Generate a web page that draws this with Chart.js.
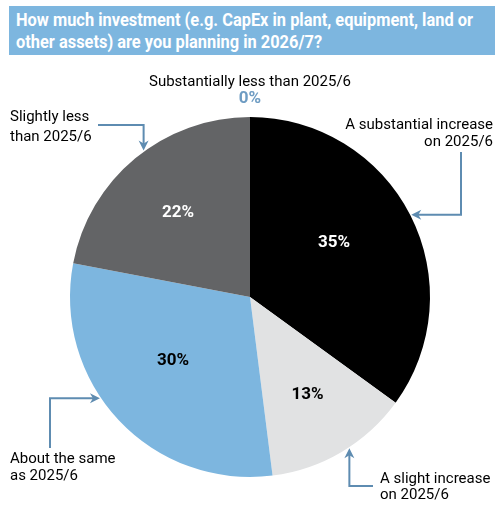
<!DOCTYPE html>
<html>
<head>
<meta charset="utf-8">
<script src="https://cdn.jsdelivr.net/npm/chart.js@4.4.1/dist/chart.umd.min.js"></script>
<style>
  html, body { margin: 0; padding: 0; background: #ffffff; }
  #wrap { position: relative; width: 501px; height: 521px; overflow: hidden; }
  #title {
    position: absolute; left: 9px; top: 6px; width: 479px; height: 46px;
    padding: 3px 0 0 7px;
    background: #7DB6DF; color: #ffffff;
    font-family: 'Roboto', sans-serif; font-weight: bold;
    font-size: 18px; line-height: 22px; white-space: nowrap;
  }
  #titleText { display: inline-block; transform-origin: 0 0; }
  canvas { position: absolute; left: 0; top: 0; }
</style>
</head>
<body>
<div id="wrap">
  <canvas id="c" width="501" height="521"></canvas>
  <div id="title"><span id="titleText">How much investment (e.g. CapEx in plant, equipment, land or<br>other assets) are you planning in 2026/7?</span></div>
</div>
<script>
// ---- data ----
const categories = [
  "A substantial increase on 2025/6",
  "A slight increase on 2025/6",
  "About the same as 2025/6",
  "Slightly less than 2025/6",
  "Substantially less than 2025/6"
];
const values = [35, 13, 30, 22, 0];
const percentLabels = ["35%", "13%", "30%", "22%", "0%"];
const calloutLines = [
  ["A substantial increase", "on 2025/6"],
  ["A slight increase", "on 2025/6"],
  ["About the same", "as 2025/6"],
  ["Slightly less", "than 2025/6"],
  ["Substantially less than 2025/6"]
];

// ---- styles ----
const sliceColors = ["#000000", "#E1E2E3", "#7DB6DF", "#636466", "#9A9A9A"];
const pctColors = ["#ffffff", "#000000", "#000000", "#ffffff", "#6E9CC3"];
const arrowColor = "#5E8CB1";
const labelFont = "15px Roboto, sans-serif";
const pctFont = "bold 17px Roboto, sans-serif";

// fit title to the reference width
(function () {
  const t = document.getElementById('titleText');
  const w = t.getBoundingClientRect().width;
  const s = 457 / w;
  t.style.transform = 'scaleX(' + s + ')';
})();

// label placement (radius fraction, angle nudge in degrees)
const pctPlacement = [
  { r: 0.556, da: -6 },
  { r: 0.628, da: 0 },
  { r: 0.556, da: 3.5 },
  { r: 0.615, da: -1 }
];

// callouts: tip angle (deg from top, clockwise), approach, elbow, label anchor
const callouts = [
  { i: 0, tipDeg: 63, approach: 'h', elbow: 461, end: 152, align: 'right', lx: 493, ly: 125, lh: 17 },
  { i: 1, tipDeg: 146.7, approach: 'v', elbow: 486, end: 373, align: 'left', lx: 380, ly: 479, lh: 16.5 },
  { i: 2, tipDeg: 236, approach: 'h', elbow: 50, end: 448, align: 'left', lx: 10, ly: 459, lh: 17 },
  { i: 3, tipDeg: 324, approach: 'v', elbow: 125, end: 98, align: 'left', lx: 10, ly: 117, lh: 20 }
];

function drawArrowHead(ctx, x, y, dx, dy) {
  const len = 10, hw = 5, notch = 3;
  const px = -dy, py = dx;
  ctx.beginPath();
  ctx.moveTo(x, y);
  ctx.lineTo(x - dx * len + px * hw, y - dy * len + py * hw);
  ctx.lineTo(x - dx * (len - notch), y - dy * (len - notch));
  ctx.lineTo(x - dx * len - px * hw, y - dy * len - py * hw);
  ctx.closePath();
  ctx.fill();
}

const annotationPlugin = {
  id: 'pieAnnotations',
  afterDatasetsDraw(chart) {
    const ctx = chart.ctx;
    const meta = chart.getDatasetMeta(0);
    const first = meta.data[0];
    const cx = first.x, cy = first.y, R = first.outerRadius;
    ctx.save();
    ctx.textAlign = 'center';
    ctx.textBaseline = 'middle';
    ctx.font = pctFont;
    meta.data.forEach((arc, i) => {
      if (values[i] <= 0) return;
      const p = pctPlacement[i];
      const a = (arc.startAngle + arc.endAngle) / 2 + p.da * Math.PI / 180;
      ctx.fillStyle = pctColors[i];
      ctx.fillText(percentLabels[i], cx + R * p.r * Math.cos(a), cy + R * p.r * Math.sin(a));
    });
    const zi = values.findIndex(v => v <= 0);
    if (zi >= 0) {
      ctx.font = labelFont;
      ctx.fillStyle = '#000000';
      ctx.fillText(calloutLines[zi][0], cx, cy - R - 35);
      ctx.font = pctFont;
      ctx.fillStyle = pctColors[zi];
      ctx.fillText(percentLabels[zi], cx, cy - R - 18);
    }
    ctx.strokeStyle = arrowColor;
    ctx.lineWidth = 2;
    callouts.forEach(c => {
      const a = (c.tipDeg - 90) * Math.PI / 180;
      const tx = cx + (R + 1) * Math.cos(a), ty = cy + (R + 1) * Math.sin(a);
      let ex, ey, sx, sy, dx, dy;
      if (c.approach === 'h') {
        ex = c.elbow; ey = ty; sx = ex; sy = c.end;
        dx = Math.sign(tx - ex); dy = 0;
      } else {
        ex = tx; ey = c.elbow; sx = c.end; sy = ey;
        dx = 0; dy = Math.sign(ty - ey);
      }
      ctx.beginPath();
      ctx.moveTo(sx, sy);
      ctx.lineTo(ex, ey);
      ctx.lineTo(tx - dx * 6, ty - dy * 6);
      ctx.stroke();
      ctx.fillStyle = arrowColor;
      drawArrowHead(ctx, tx, ty, dx, dy);
      ctx.font = labelFont;
      ctx.textAlign = c.align;
      ctx.textBaseline = 'middle';
      ctx.fillStyle = '#000000';
      calloutLines[c.i].forEach((line, k) => ctx.fillText(line, c.lx, c.ly + k * c.lh));
    });
    ctx.restore();
  }
};

new Chart(document.getElementById('c'), {
  type: 'pie',
  data: {
    labels: categories,
    datasets: [{
      data: values,
      backgroundColor: sliceColors,
      borderWidth: 0
    }]
  },
  options: {
    responsive: false,
    animation: false,
    layout: { padding: { left: 70, right: 71, top: 117, bottom: 44 } },
    plugins: {
      legend: { display: false },
      tooltip: { enabled: false },
      title: { display: false }
    }
  },
  plugins: [annotationPlugin]
});
</script>
</body>
</html>
